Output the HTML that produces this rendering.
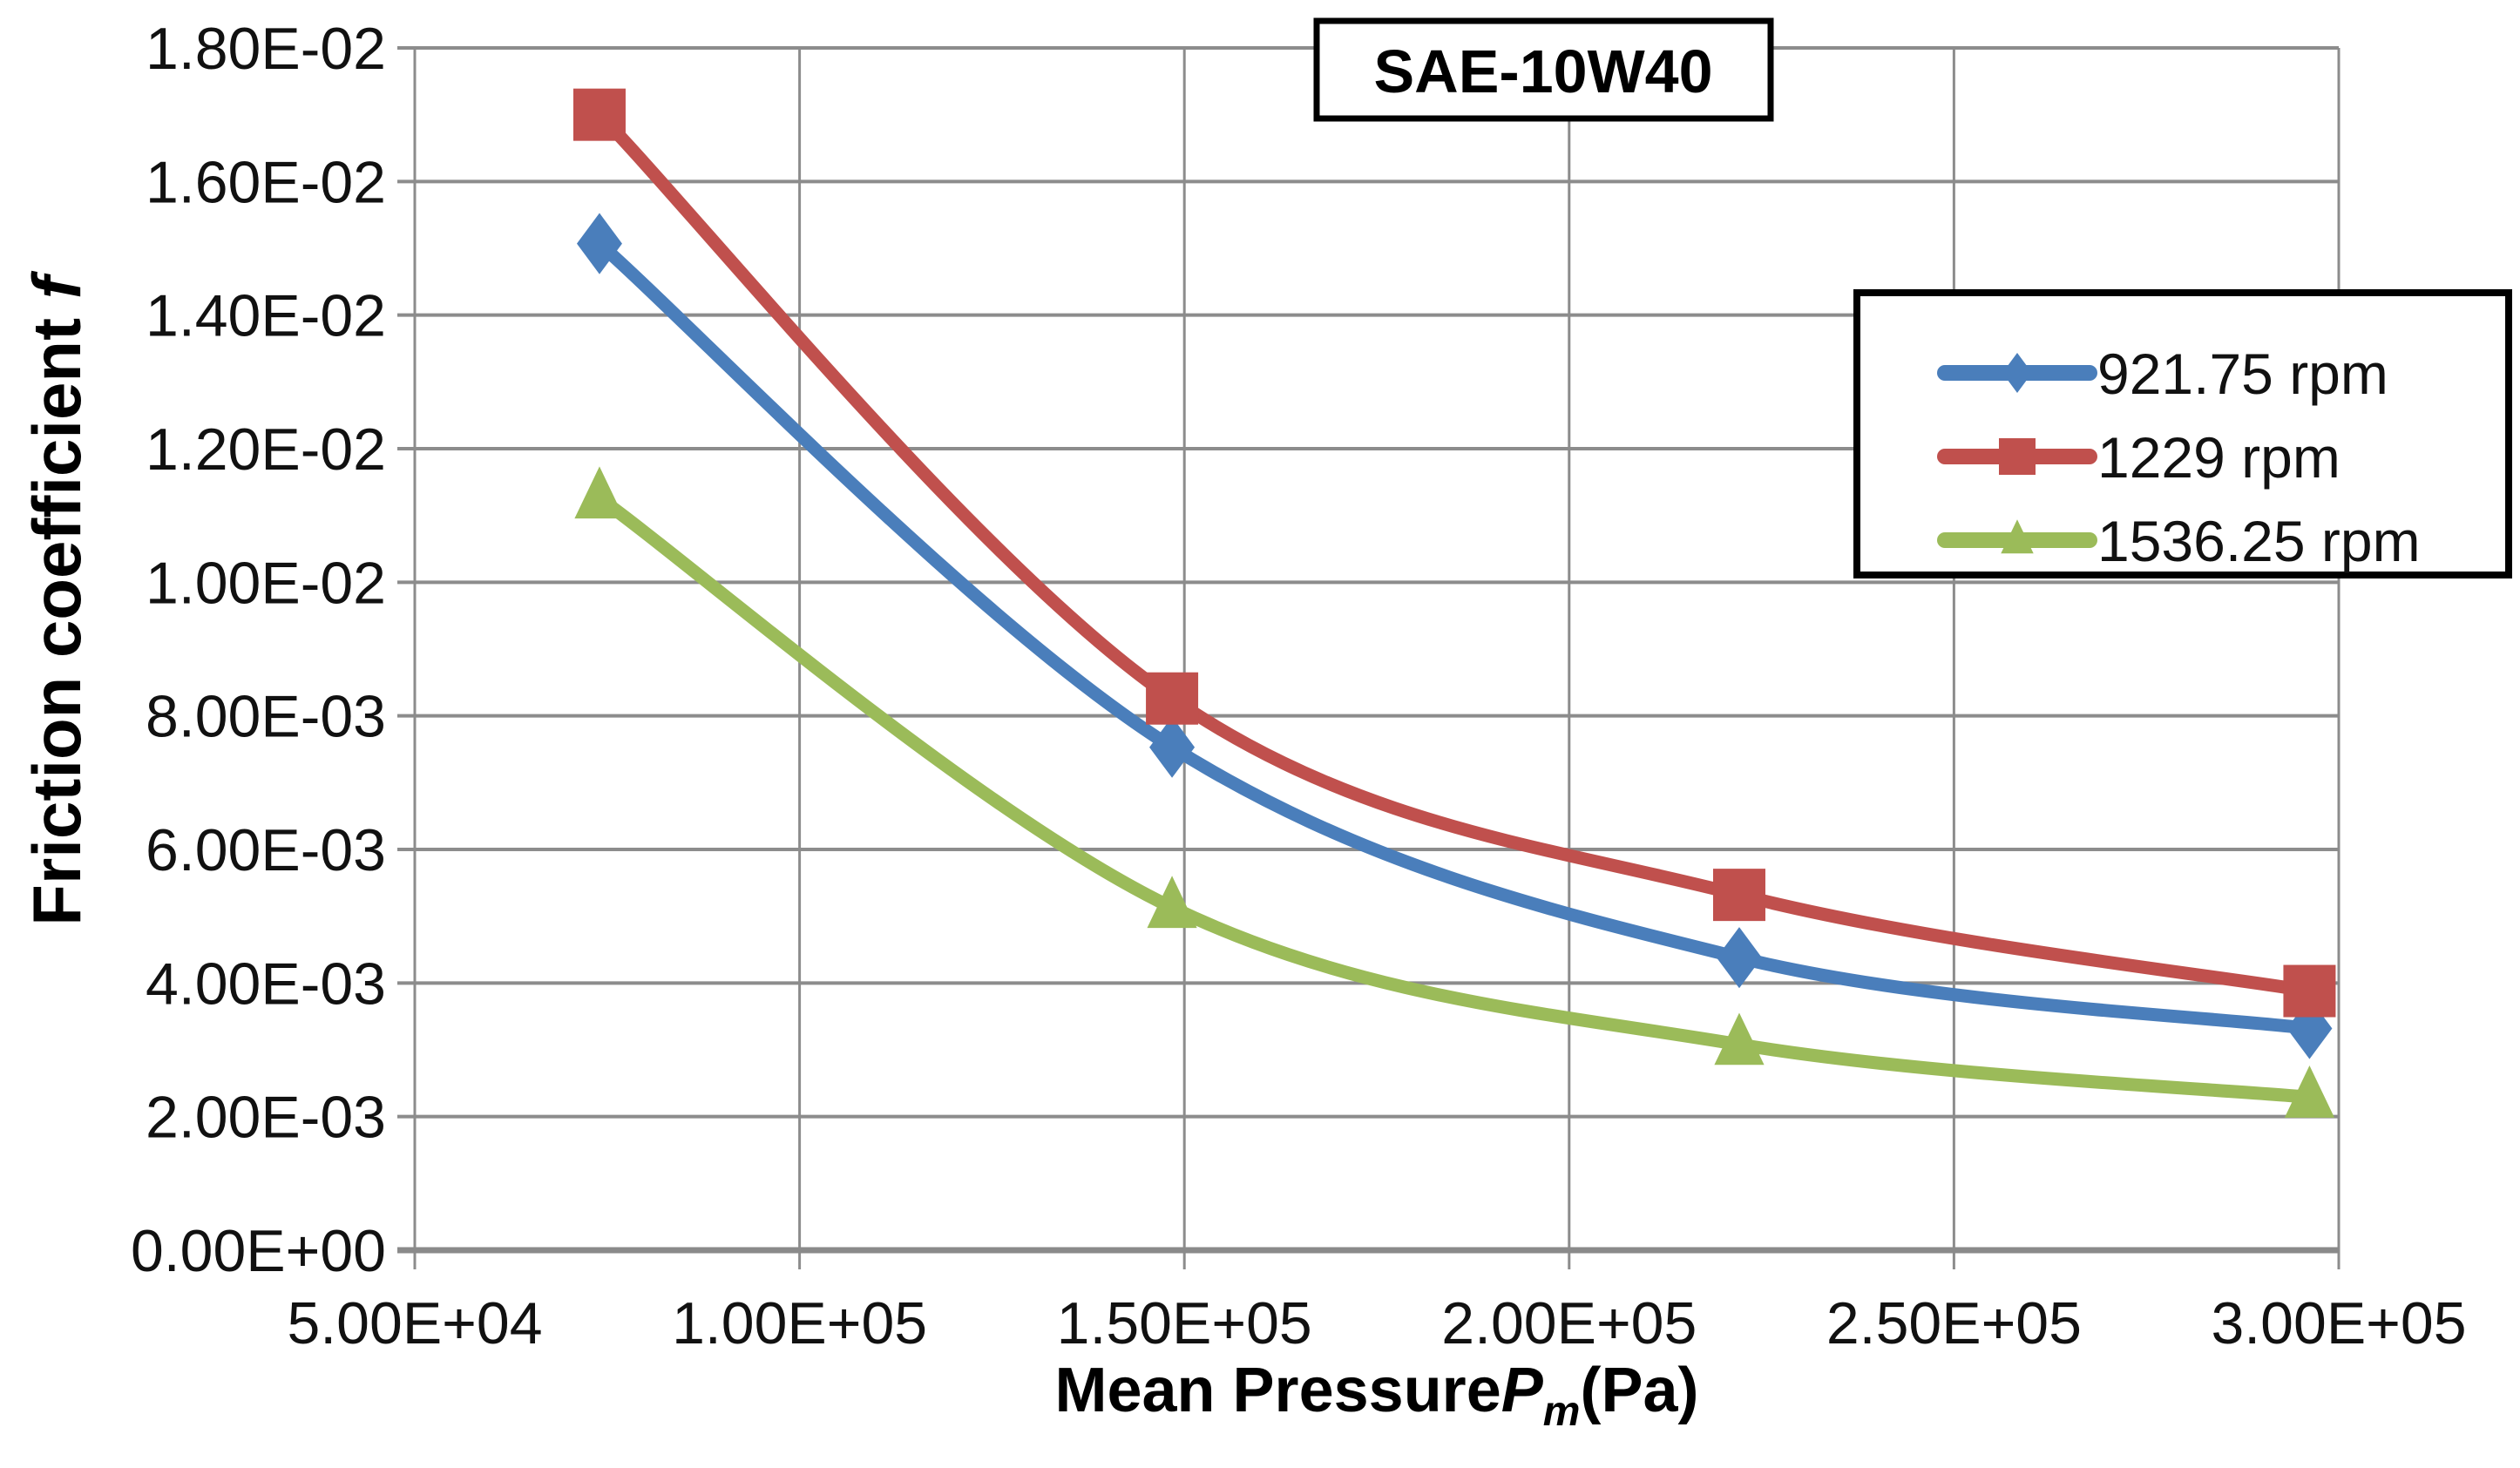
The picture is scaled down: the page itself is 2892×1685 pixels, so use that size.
<!DOCTYPE html>
<html><head><meta charset="utf-8"><style>
html,body{margin:0;padding:0;background:#fff;}
svg{display:block;font-family:"Liberation Sans",Arial,sans-serif;}
</style></head><body>
<svg id="chart" width="2892" height="1685" viewBox="0 0 2892 1685" xmlns="http://www.w3.org/2000/svg">
<g id="grid"></g>
<g id="axes"></g>
<g id="series"></g>
<text x="1580" y="1620" font-size="72" font-weight="bold" text-anchor="middle">Mean Pressure<tspan font-style="italic">P</tspan><tspan font-style="italic" font-size="48" dy="16">m</tspan><tspan dy="-16">(Pa)</tspan></text>
<text transform="translate(92,690) rotate(-90)" font-size="78" font-weight="bold" text-anchor="middle">Friction coefficient <tspan font-style="italic">f</tspan></text>
<g>
<rect x="1511" y="24" width="521" height="112" fill="#fff" stroke="#000" stroke-width="7"/>
<text x="1771" y="106" font-size="70" font-weight="bold" text-anchor="middle">SAE-10W40</text>
</g>
<g id="legend">
<rect x="2131" y="336" width="748" height="324" fill="#fff" stroke="#000" stroke-width="8"/>
</g>
</svg>
<script>
const xValues=[74000,148400,222100,296200];
const seriesNames=["921.75 rpm","1229 rpm","1536.25 rpm"];
const blueValues=[0.01507,0.00753,0.00438,0.00332];
const redValues=[0.0170,0.00826,0.00532,0.00388];
const greenValues=[0.01126,0.00513,0.00308,0.00229];
const xTicks=[50000,100000,150000,200000,250000,300000];
const xTickLabels=["5.00E+04","1.00E+05","1.50E+05","2.00E+05","2.50E+05","3.00E+05"];
const yTicks=[0,0.002,0.004,0.006,0.008,0.010,0.012,0.014,0.016,0.018];
const yTickLabels=["0.00E+00","2.00E-03","4.00E-03","6.00E-03","8.00E-03","1.00E-02","1.20E-02","1.40E-02","1.60E-02","1.80E-02"];

const L=476,R=2684,T=55,B=1435;
const sx=v=>L+(v-50000)/250000*(R-L);
const sy=v=>B-(v/0.018)*(B-T);
const NS="http://www.w3.org/2000/svg";
function mk(tag,attrs,parent){const e=document.createElementNS(NS,tag);for(const k in attrs)e.setAttribute(k,attrs[k]);parent.appendChild(e);return e;}
const grid=document.getElementById('grid'),axes=document.getElementById('axes'),ser=document.getElementById('series'),leg=document.getElementById('legend');

yTicks.forEach((v,i)=>{
  if(i>0){const g=mk('line',{x1:L-20,x2:R,y1:sy(v),y2:sy(v),stroke:'#8c8c8c','stroke-width':4},grid);
  
  }
  const t=mk('text',{x:443,y:sy(v)+24,'font-size':68,'text-anchor':'end',fill:'#111'},axes);
  t.textContent=yTickLabels[i];
  
  
});
xTicks.forEach((v,i)=>{
  const g=mk('line',{x1:sx(v),x2:sx(v),y1:T,y2:B+22,stroke:'#8c8c8c','stroke-width':3},grid);
  
  
  const t=mk('text',{x:sx(v),y:1542,'font-size':68,'text-anchor':'middle',fill:'#111'},axes);
  t.textContent=xTickLabels[i];
  
  
});
const ax=mk('line',{x1:L-20,x2:R,y1:B,y2:B,stroke:'#8a8a8a','stroke-width':7},axes);



function smooth(pts){
  let d=`M${pts[0][0]},${pts[0][1]}`;
  for(let i=0;i<pts.length-1;i++){
    const p0=pts[Math.max(0,i-1)],p1=pts[i],p2=pts[i+1],p3=pts[Math.min(pts.length-1,i+2)];
    const t=1/6;
    d+=` C${p1[0]+(p2[0]-p0[0])*t},${p1[1]+(p2[1]-p0[1])*t} ${p2[0]-(p3[0]-p1[0])*t},${p2[1]-(p3[1]-p1[1])*t} ${p2[0]},${p2[1]}`;
  }
  return d;
}
function marker(type,x,y,color,parent,s){
  let e;
  if(type==='sq') e=mk('rect',{x:x-s,y:y-s,width:2*s,height:2*s,fill:color},parent);
  else if(type==='di') e=mk('polygon',{points:`${x},${y-s*1.35} ${x+s},${y} ${x},${y+s*1.35} ${x-s},${y}`,fill:color},parent);
  else e=mk('polygon',{points:`${x},${y-s*1.4} ${x+s*1.1},${y+s*0.9} ${x-s*1.1},${y+s*0.9}`,fill:color},parent);
  return e;
}
const all=[[blueValues,'#4a7ebb','di'],[redValues,'#c0504d','sq'],[greenValues,'#9bbb59','tr']];
all.forEach(([vals,color,m],si)=>{
  const pts=vals.map((v,i)=>[sx(xValues[i]),sy(v)]);
  const p=mk('path',{d:smooth(pts),fill:'none',stroke:color,'stroke-width':15,'stroke-linecap':'round'},ser);
  
  
  pts.forEach(pt=>{
    const mm=marker(m,pt[0],pt[1],color,ser,m==='sq'?30:26);
    
    
  });
  const ly=428+si*96;
  const ll=mk('line',{x1:2232,x2:2398,y1:ly,y2:ly,stroke:color,'stroke-width':18,'stroke-linecap':'round'},leg);
  
  
  const lm=marker(m,2315,ly,color,leg,m==='sq'?21:17);
  
  
  const lt=mk('text',{x:2407,y:ly+24,'font-size':66,fill:'#111'},leg);
  lt.textContent=seriesNames[si];
  
  
});
</script>
</body></html>
